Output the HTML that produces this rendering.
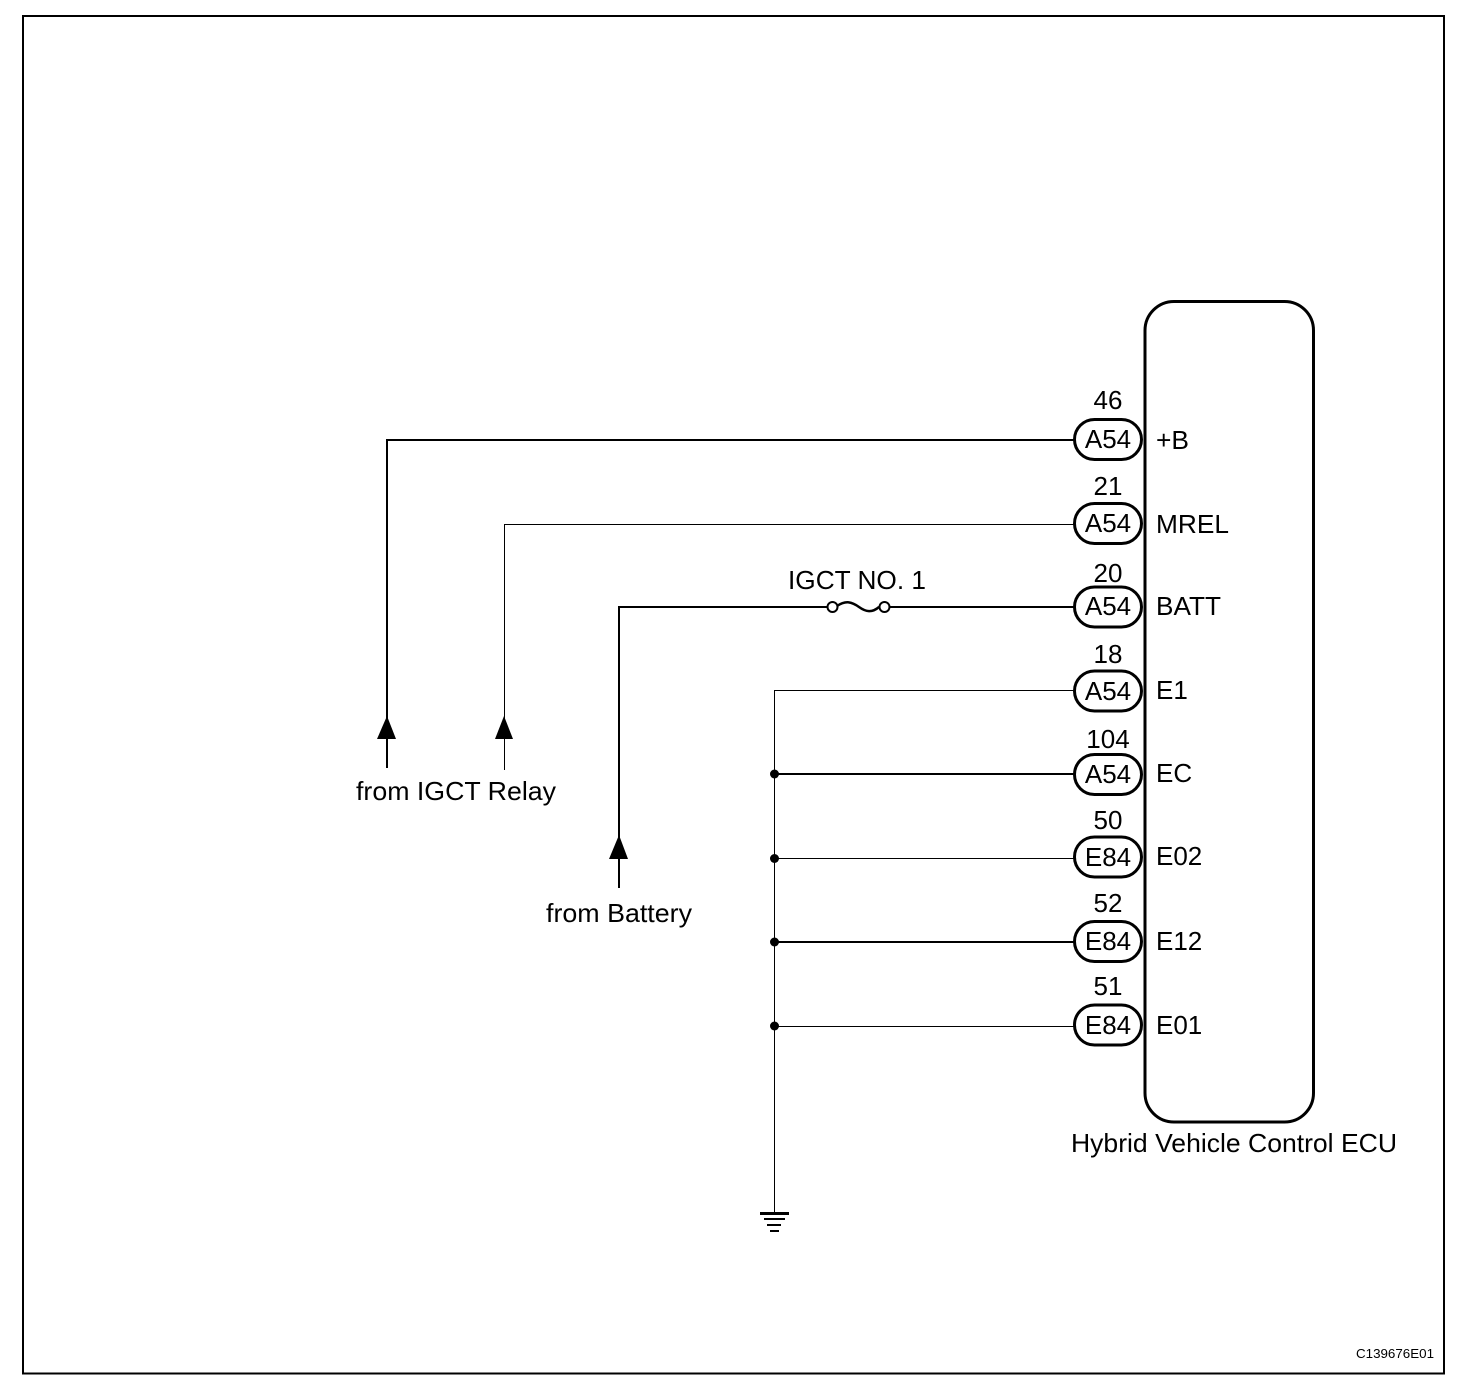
<!DOCTYPE html>
<html><head><meta charset="utf-8"><style>
html,body{margin:0;padding:0;background:#fff}
svg{display:block}
text{font-family:"Liberation Sans",Arial,sans-serif;font-size:26px;fill:#000}
.m{text-anchor:middle}
</style></head><body>
<svg width="1472" height="1392" viewBox="0 0 1472 1392" xmlns="http://www.w3.org/2000/svg">
<rect x="23" y="16" width="1421" height="1357.500" fill="none" stroke="#000" stroke-width="2" shape-rendering="crispEdges"/>
<rect x="1145" y="301.500" width="168.500" height="820.500" rx="29" fill="#fff" stroke="#000" stroke-width="3"/>
<g fill="none" stroke="#000" shape-rendering="crispEdges">
<path d="M387 768V440H1074" stroke-width="2"/>
<path d="M504.500 770V524.500H1074" stroke-width="1"/>
<path d="M619 888V607H828M890 607H1074" stroke-width="2"/>
<path d="M774.500 1212V690.500H1074" stroke-width="1"/>
<path d="M774 774H1074" stroke-width="2"/>
<path d="M774 858.500H1074" stroke-width="1"/>
<path d="M774 942H1074" stroke-width="2"/>
<path d="M774 1026.500H1074" stroke-width="1"/>
</g>
<g fill="#000">
<polygon points="387,716 396,739 377,739"/>
<polygon points="504,716 513,739 495,739"/>
<polygon points="619,835 628,859 609,859"/>
<circle cx="774.500" cy="774" r="4.500"/><circle cx="774.500" cy="858.500" r="4.500"/><circle cx="774.500" cy="942" r="4.500"/><circle cx="774.500" cy="1026" r="4.500"/>
<rect x="760" y="1212" width="29" height="3"/><rect x="764" y="1218" width="21" height="2"/><rect x="767" y="1224" width="14" height="2"/><rect x="770" y="1230" width="9" height="2"/>
</g>
<path d="M837 606C846 600 852 602 859 607C866 612 872 613 879 607" fill="none" stroke="#000" stroke-width="2.500"/>
<circle cx="832.500" cy="607" r="5" fill="#fff" stroke="#000" stroke-width="2"/><circle cx="884.500" cy="607" r="5" fill="#fff" stroke="#000" stroke-width="2"/>
<g fill="#fff" stroke="#000" stroke-width="3">
<rect x="1074.500" y="419.500" width="67" height="40" rx="20"/>
<rect x="1074.500" y="503.500" width="67" height="40" rx="20"/>
<rect x="1074.500" y="587" width="67" height="40" rx="20"/>
<rect x="1074.500" y="671" width="67" height="40" rx="20"/>
<rect x="1074.500" y="754.500" width="67" height="40" rx="20"/>
<rect x="1074.500" y="837" width="67" height="40" rx="20"/>
<rect x="1074.500" y="921.500" width="67" height="40" rx="20"/>
<rect x="1074.500" y="1005" width="67" height="40" rx="20"/>
</g>
<text class="m" x="1108" y="448">A54</text><text class="m" x="1108" y="532">A54</text><text class="m" x="1108" y="615">A54</text><text class="m" x="1108" y="700">A54</text><text class="m" x="1108" y="783">A54</text><text class="m" x="1108" y="866">E84</text><text class="m" x="1108" y="950">E84</text><text class="m" x="1108" y="1034">E84</text>
<text class="m" x="1108" y="409">46</text><text class="m" x="1108" y="495">21</text><text class="m" x="1108" y="582">20</text><text class="m" x="1108" y="663">18</text><text class="m" x="1108" y="748">104</text><text class="m" x="1108" y="829">50</text><text class="m" x="1108" y="912">52</text><text class="m" x="1108" y="995">51</text>
<text x="1156" y="449" textLength="33" lengthAdjust="spacingAndGlyphs">+B</text><text x="1156" y="533" textLength="73" lengthAdjust="spacingAndGlyphs">MREL</text><text x="1156" y="615" textLength="65" lengthAdjust="spacingAndGlyphs">BATT</text><text x="1156" y="699">E1</text><text x="1156" y="782">EC</text><text x="1156" y="865">E02</text><text x="1156" y="950">E12</text><text x="1156" y="1034">E01</text>
<text x="788" y="589" textLength="138" lengthAdjust="spacingAndGlyphs">IGCT NO. 1</text>
<text x="356" y="800" textLength="200" lengthAdjust="spacingAndGlyphs">from IGCT Relay</text>
<text x="546" y="922" textLength="146" lengthAdjust="spacingAndGlyphs">from Battery</text>
<text x="1071" y="1152" textLength="326" lengthAdjust="spacingAndGlyphs">Hybrid Vehicle Control ECU</text>
<text x="1356" y="1358" style="font-size:13px" textLength="78" lengthAdjust="spacingAndGlyphs">C139676E01</text>
</svg>
</body></html>
